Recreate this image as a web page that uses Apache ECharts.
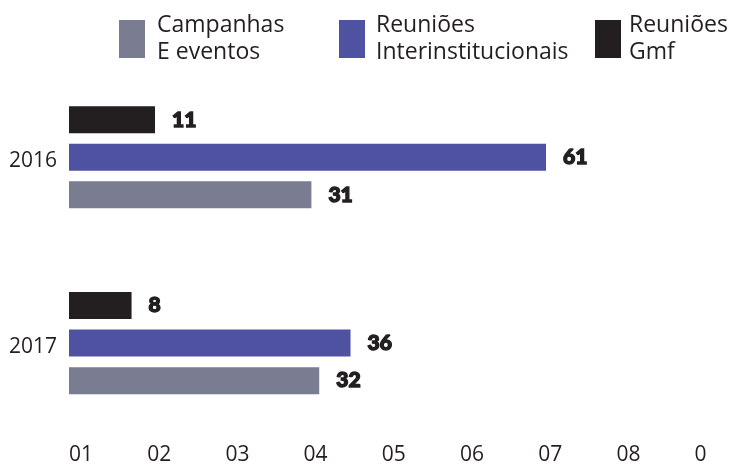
<!DOCTYPE html>
<html>
<head>
<meta charset="utf-8">
<script src="https://cdn.jsdelivr.net/npm/echarts@6/dist/echarts.min.js"></script>
<style>
  html, body { margin: 0; padding: 0; background: #ffffff; }
  #chart { width: 729px; height: 466px; }
</style>
</head>
<body>
<div id="chart"></div>
<script>
// Years shown on the category axis
const years = ['2016', '2017'];

// Series values per year
const campanhasEventos = [31, 32];
const reunioesInterinstitucionais = [61, 36];
const reunioesGmf = [11, 8];

// Value-axis ticks and the text printed under each of them
const xTicks = [0, 10, 20, 30, 40, 50, 60, 70, 80];
const xTickLabels = ['01', '02', '03', '04', '05', '06', '07', '08', '0'];

const seriesNames = ['Campanhas\nE eventos', 'Reuniões\nInterinstitucionais', 'Reuniões\nGmf'];
const colors = ['#7a7c91', '#4f52a0', '#231f20'];
const textColor = '#231f20';
const bodyFont = '"Open Sans", sans-serif';
const numberFont = 'Lato, "Open Sans", sans-serif';

const chart = echarts.init(document.getElementById('chart'), null, { renderer: 'canvas' });

function legendAt(name, left, textGap) {
  return {
    data: [name],
    left: left,
    top: 12,
    orient: 'horizontal',
    icon: 'rect',
    itemWidth: 26,
    itemHeight: 38,
    selectedMode: false,
    padding: 0,
    textStyle: {
      fontFamily: bodyFont,
      fontSize: 23,
      lineHeight: 27,
      color: textColor,
      padding: [0, 0, 0, textGap]
    }
  };
}

function barSeries(name, values, color) {
  return {
    name: name,
    type: 'bar',
    data: values,
    barWidth: 27,
    barGap: '39%',
    itemStyle: { color: color },
    label: {
      show: true,
      position: 'right',
      distance: 17,
      fontFamily: numberFont,
      fontWeight: 900,
      fontSize: 21,
      color: textColor,
      textBorderColor: textColor,
      textBorderWidth: 1.4
    },
    emphasis: { disabled: true }
  };
}

const option = {
  animation: false,
  backgroundColor: '#ffffff',
  legend: [
    legendAt(seriesNames[0], 119, 7),
    legendAt(seriesNames[1], 339, 6),
    legendAt(seriesNames[2], 595, 3)
  ],
  grid: { left: 69, right: 34.4, top: 64.4, bottom: 28.4, containLabel: false },
  xAxis: {
    type: 'value',
    min: xTicks[0],
    max: xTicks[xTicks.length - 1],
    interval: xTicks[1] - xTicks[0],
    axisLine: { show: false },
    axisTick: { show: false },
    splitLine: { show: false },
    axisLabel: {
      margin: 9,
      align: 'left',
      fontFamily: bodyFont,
      fontSize: 21,
      color: textColor,
      formatter: function (v) {
        const i = xTicks.indexOf(v);
        return i >= 0 ? xTickLabels[i] : '';
      }
    }
  },
  yAxis: {
    type: 'category',
    data: years,
    inverse: true,
    axisLine: { show: false },
    axisTick: { show: false },
    splitLine: { show: false },
    axisLabel: {
      margin: 12,
      color: textColor,
      formatter: function (v) { return '{y|' + v + '}'; },
      rich: {
        y: {
          fontFamily: bodyFont,
          fontSize: 21,
          color: textColor,
          padding: [8, 0, 0, 0]
        }
      }
    }
  },
  // Drawn top to bottom within each year: Gmf, Interinstitucionais, Campanhas
  series: [
    barSeries(seriesNames[2], reunioesGmf, colors[2]),
    barSeries(seriesNames[1], reunioesInterinstitucionais, colors[1]),
    barSeries(seriesNames[0], campanhasEventos, colors[0])
  ]
};

chart.setOption(option);
</script>
</body>
</html>
